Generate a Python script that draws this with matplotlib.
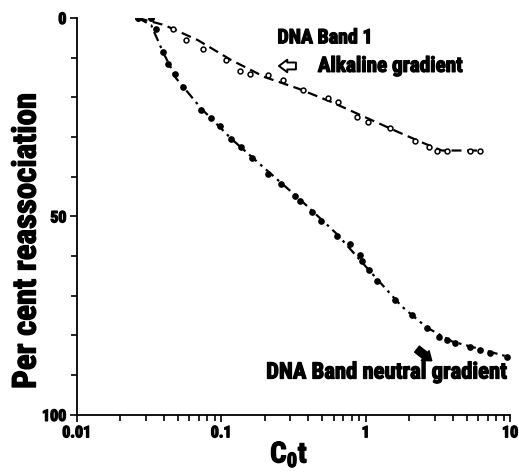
import matplotlib
matplotlib.use("Agg")
import matplotlib.pyplot as plt
import matplotlib.font_manager as fm
import matplotlib.patheffects as pe
from matplotlib.ticker import FixedLocator, LogLocator, NullFormatter

# ---- data ----
alk_x = [0.0266, 0.0327, 0.0462, 0.0572, 0.0746, 0.108, 0.134, 0.157, 0.211, 0.268,
         0.369, 0.551, 0.646, 0.866, 1.04, 1.47, 2.20, 2.73, 3.11, 3.65, 5.30, 6.22]
alk_y = [0.0, 0.0, 2.9, 5.6, 7.7, 10.6, 13.3, 14.2, 14.4, 15.7,
         18.2, 20.1, 21.2, 25.0, 26.2, 27.7, 30.9, 32.6, 33.4, 33.4, 33.4, 33.4]

neu_x = [0.0266, 0.0327, 0.0354, 0.0394, 0.0427, 0.0475, 0.0542, 0.0726, 0.0854, 0.0973,
         0.117, 0.138, 0.162, 0.211, 0.261, 0.323, 0.350, 0.422, 0.490, 0.630,
         0.778, 0.912, 0.938, 1.05, 1.19, 1.60, 2.09, 2.65, 3.20, 3.65,
         4.17, 5.30, 6.22, 7.30, 9.53]
neu_y = [0.0, 0.0, 2.8, 8.5, 11.5, 14.0, 17.5, 23.3, 25.1, 27.3,
         30.4, 32.6, 35.3, 39.3, 41.8, 44.8, 46.1, 49.0, 51.1, 54.9,
         57.0, 59.6, 61.3, 63.6, 66.3, 71.0, 74.8, 78.2, 80.3, 81.1,
         81.9, 82.8, 83.6, 84.5, 85.3]

# fitted curves as drawn in the figure
alk_fit_x = [0.0264, 0.0404, 0.0689, 0.117, 0.200, 0.341, 0.581, 0.99, 1.69, 2.58, 3.37, 6.22]
alk_fit_y = [0.0, 1.8, 5.6, 10.6, 14.9, 17.8, 21.2, 25.0, 28.8, 31.7, 33.4, 33.4]
neu_fit_x = [0.0265, 0.0327, 0.0395, 0.0487, 0.0726, 0.117, 0.190, 0.360, 0.630, 1.10, 1.78, 2.65, 3.96, 10.0]
neu_fit_y = [0.0, 1.8, 8.6, 15.2, 22.8, 30.4, 37.2, 46.1, 54.4, 64.3, 72.7, 78.0, 81.5, 85.5]

x_ticks = [0.01, 0.1, 1, 10]
x_tick_labels = ["0.01", "0.1", "1", "10"]
y_major = [0, 50, 100]
y_major_labels = ["0", "50", "100"]
y_minor = [10, 20, 30, 40, 60, 70, 80, 90]


# ---- find a condensed bold font family if one is installed ----
def pick_family():
    names = {f.name for f in fm.fontManager.ttflist}
    for name in ["Liberation Sans Narrow", "DejaVu Sans Condensed", "Roboto Condensed",
                 "Open Sans Condensed", "Noto Sans Condensed"]:
        if name in names:
            return name
    for n in sorted(names):
        if "Condensed" in n or "Narrow" in n:
            return n
    return "DejaVu Sans"


FAM = pick_family()
plt.rcParams["font.family"] = [FAM, "DejaVu Sans"]
plt.rcParams["font.weight"] = "bold"
plt.rcParams["mathtext.fontset"] = "custom"
plt.rcParams["mathtext.rm"] = FAM + ":bold"
plt.rcParams["mathtext.bf"] = FAM + ":bold"
plt.rcParams["mathtext.default"] = "regular"

HEAVY = [pe.withStroke(linewidth=0.9, foreground="black")]

fig = plt.figure(figsize=(5.19, 4.72), dpi=100)
ax = fig.add_axes([0.148, 0.121, 0.835, 0.841])

ax.plot(alk_fit_x, alk_fit_y, color="black", lw=1.6, dashes=(4.5, 2.5), zorder=2)
ax.plot(neu_fit_x, neu_fit_y, color="black", lw=1.6, dashes=(4.5, 2.2, 1.2, 2.2), zorder=2)
ax.plot(alk_x, alk_y, "o", ms=3.5, mfc="white", mec="black", mew=1.1, zorder=3)
ax.plot(neu_x, neu_y, "o", ms=3.8, mfc="black", mec="black", zorder=3)

ax.set_xscale("log")
ax.set_xlim(0.01, 10)
ax.set_ylim(100, 0)

ax.xaxis.set_major_locator(FixedLocator(x_ticks))
ax.set_xticklabels(x_tick_labels)
ax.xaxis.set_minor_locator(LogLocator(base=10, subs=range(2, 10)))
ax.xaxis.set_minor_formatter(NullFormatter())
ax.yaxis.set_major_locator(FixedLocator(y_major))
ax.set_yticklabels(y_major_labels)
ax.yaxis.set_minor_locator(FixedLocator(y_minor))

for s in ["top", "right"]:
    ax.spines[s].set_visible(False)
for s in ["left", "bottom"]:
    ax.spines[s].set_linewidth(1.3)

ax.tick_params(which="major", direction="out", length=5, width=1.2, pad=2.5, labelsize=11.5)
ax.tick_params(which="minor", direction="out", length=4, width=1.2)

tx = dict(transform=ax.transAxes, ha="center", va="center", fontweight="bold",
          path_effects=HEAVY)
ylab = ax.text(-0.116, 0.438, "Per cent reassociation", rotation=90, fontsize=20, **tx)
c0t = ax.text(0.49, -0.10, r"C$_{0}$t", fontsize=20, **tx)
t1 = ax.text(0.573, 0.950, "DNA Band 1", fontsize=12, **tx)
t2 = ax.text(0.723, 0.878, "Alkaline gradient", fontsize=12, **tx)
t3 = ax.text(0.715, 0.108, "DNA Band neutral gradient", fontsize=12, **tx)

# scale text sizes to the extents seen in the reference (pixels)
fig.canvas.draw()
r = fig.canvas.get_renderer()
for t, target, use_h in [(ylab, 295, True), (t1, 95, False), (t2, 145, False),
                         (t3, 241, False), (c0t, 38, False)]:
    bb = t.get_window_extent(r)
    cur = bb.height if use_h else bb.width
    t.set_fontsize(t.get_fontsize() * target / cur)

# make the tick labels heavy like the scanned original
for tick in ax.xaxis.get_major_ticks() + ax.yaxis.get_major_ticks():
    lab = tick.label1
    lab.set_fontfamily([FAM, "DejaVu Sans"])
    lab.set_fontweight("bold")
    lab.set_fontsize(11.5)
    lab.set_path_effects(HEAVY)

ax.annotate("", xy=(0.460, 0.879), xytext=(0.512, 0.879), xycoords="axes fraction",
            textcoords="axes fraction",
            arrowprops=dict(arrowstyle="simple,head_length=0.6,head_width=0.9,tail_width=0.5",
                            fc="white", ec="black", lw=1.4))
ax.annotate("", xy=(0.824, 0.132), xytext=(0.780, 0.170), xycoords="axes fraction",
            textcoords="axes fraction",
            arrowprops=dict(arrowstyle="simple,head_length=0.6,head_width=0.9,tail_width=0.55",
                            fc="black", ec="black", lw=1.0))

fig.savefig("out.png", dpi=100)
